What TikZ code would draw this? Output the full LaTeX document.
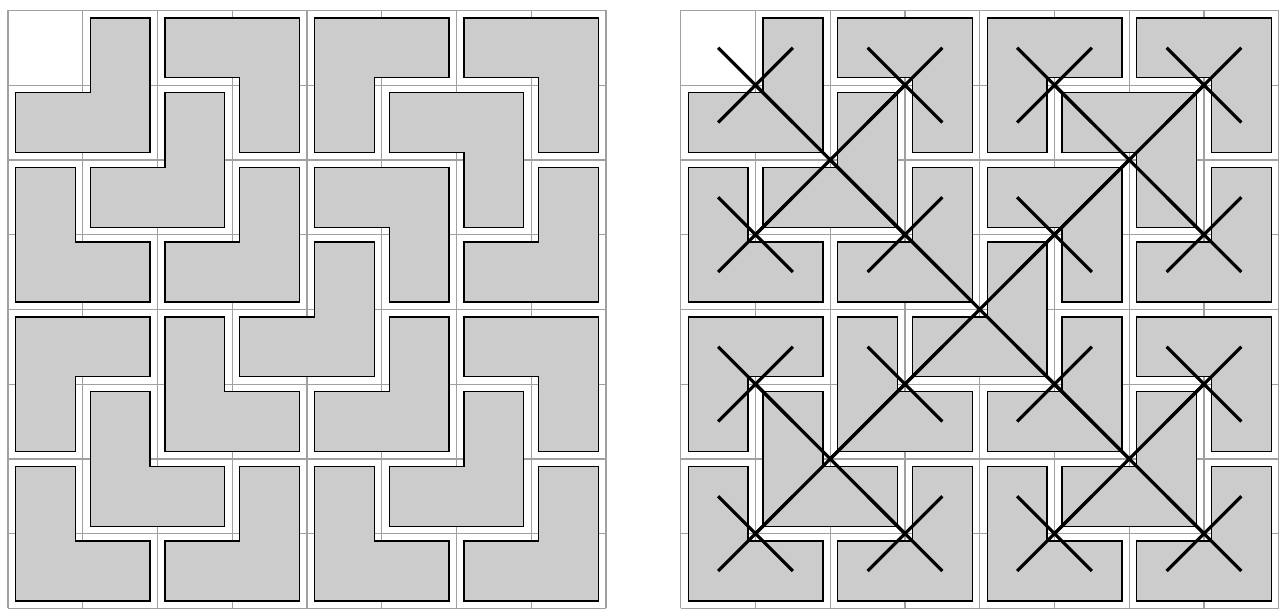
\documentclass[tikz,border=0pt]{standalone}
\usepackage{tikz}
\usetikzlibrary{calc}
\usepackage{xcolor}
\definecolor{tilegray}{HTML}{CCCCCC}
\definecolor{gridgray}{HTML}{A0A0A0}

% L-tromino round vertex (#1,#2), notch towards (#3,#4)
\newcommand{\trom}[4]{%
  \filldraw[tile] ({#1-0.9*(#3)},{#2-0.9*(#4)}) -- ({#1+0.9*(#3)},{#2-0.9*(#4)})
    -- ({#1+0.9*(#3)},{#2-0.1*(#4)}) -- ({#1-0.1*(#3)},{#2-0.1*(#4)})
    -- ({#1-0.1*(#3)},{#2+0.9*(#4)}) -- ({#1-0.9*(#3)},{#2+0.9*(#4)}) -- cycle;}
% cross at (#1,#2), half size #3
\newcommand{\crossat}[3]{%
  \draw[cross] ({#1-#3},{#2-#3}) -- ({#1+#3},{#2+#3});
  \draw[cross] ({#1-#3},{#2+#3}) -- ({#1+#3},{#2-#3});}

\begin{document}
\begin{tikzpicture}[
  gridline/.style={gridgray, line width=0.45pt},
  tile/.style={fill=tilegray, draw=black, line width=0.55pt},
  cross/.style={black, line width=1.2pt}
]
  \useasboundingbox (-0.107,-0.047) rectangle (17.017,8.14);
  % two boards, same tiling
  \foreach \ox in {0,9} {
    \draw[gridline] (\ox,0) grid (\ox+8,8);
    \begin{scope}[xshift=\ox cm]
      \foreach \vx/\vy/\nx/\ny in {1/7/-1/1, 3/7/-1/-1, 1/5/1/1, 3/5/-1/1, 2/6/-1/1,
          5/7/1/-1, 7/7/-1/-1, 5/5/-1/-1, 7/5/-1/1, 6/6/-1/-1,
          4/4/-1/1,
          1/3/1/-1, 3/3/1/1, 1/1/1/1, 3/1/-1/1, 2/2/1/1,
          5/3/-1/1, 7/3/-1/-1, 5/1/1/1, 7/1/-1/1, 6/2/-1/1}
        \trom{\vx}{\vy}{\nx}{\ny};
    \end{scope}
  }
  % recursion centres on the right board
  \begin{scope}[xshift=9cm]
    \foreach \i in {1,3,5,7}
      \foreach \j in {1,3,5,7}
        \crossat{\i}{\j}{0.5};
    \foreach \i/\j in {2/2, 2/6, 6/2, 6/6}
      \crossat{\i}{\j}{1};
    \crossat{4}{4}{2};
  \end{scope}
\end{tikzpicture}
\end{document}
